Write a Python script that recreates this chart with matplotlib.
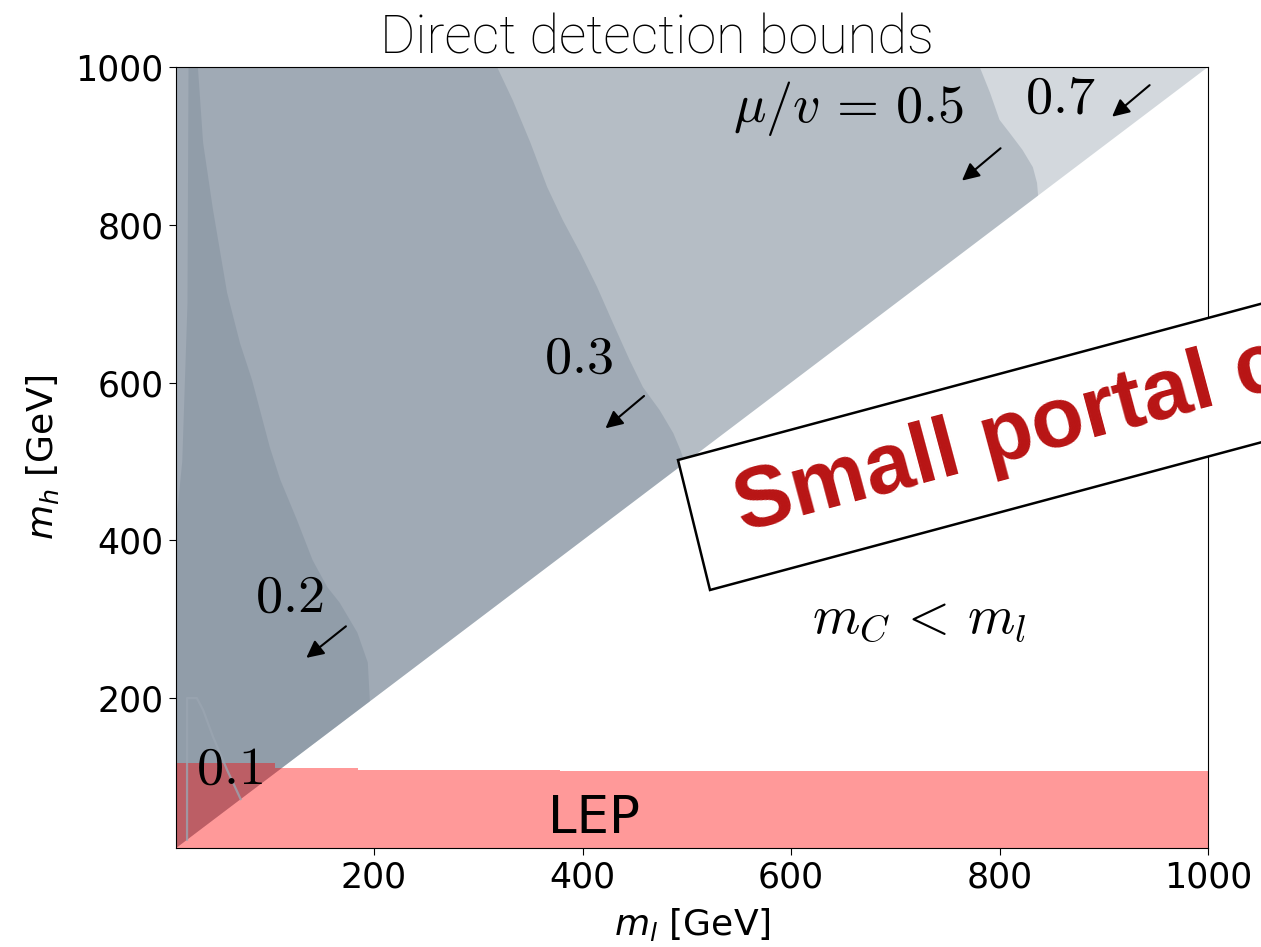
import numpy as np
import matplotlib
matplotlib.use("Agg")
import matplotlib.pyplot as plt
from matplotlib.patches import Polygon

plt.rcParams['xtick.labelsize'] = 25
plt.rcParams['ytick.labelsize'] = 25
plt.rcParams['axes.labelsize'] = 26

W, H = 1261, 947

# mass range (GeV)
m_min, m_max = 10, 1000

# contour boundaries, from the top edge down to the diagonal
b02_x = [31, 36, 45.5, 59, 71.4, 83, 100, 110, 126, 141, 155, 167, 184, 194, 196]
b02_y = [1000, 904, 819, 714, 650, 603, 518, 477, 426, 375, 341, 321, 283, 245, 196]
# left edge of the 0.2 region (thin lighter strip near m_l ~ 10-20)
b02_left_x = [10, 16, 21, 22]
b02_left_y = [420, 500, 700, 1000]

b03_x = [318, 333, 350, 366, 381, 398, 414, 429, 445, 458, 474, 487, 494, 498]
b03_y = [1000, 958, 904, 848, 806, 764, 721, 676, 629, 594, 565, 536, 514, 498]

b05_x = [781, 791, 800, 810, 822, 832, 836, 837]
b05_y = [1000, 967, 933, 916, 895, 873, 853, 837]

b01_x = [20.6, 20.6, 30, 36, 45.5, 59, 72]
b01_y = [20.6, 200, 200, 185, 151, 109, 72]

# LEP bound (step)
lep_x = [10, 105, 185, 378, 1000]
lep_y = [118, 112, 109, 107, 107]


def region(curve_x, curve_y, left_x=None, left_y=None):
  # region left of a boundary curve and above the diagonal m_h = m_l
  xs, ys = [m_min], [m_min]
  if left_x is None:
    xs += [m_min]
    ys += [m_max]
  else:
    xs += list(left_x)
    ys += list(left_y)
  xs += list(curve_x)
  ys += list(curve_y)
  return xs, ys


fig = plt.figure(figsize=(W/100, H/100), dpi=100)
ax = fig.add_axes([176/W, 1-848/H, (1208-176)/W, (848-67)/H])

gray = 'slategray'
# mu/v = 0.7 covers everything above the diagonal
ax.fill([m_min, m_max, m_min], [m_min, m_max, m_max], color=gray, alpha=0.3, lw=0)
for cx, cy in [(b05_x, b05_y), (b03_x, b03_y)]:
  xs, ys = region(cx, cy)
  ax.fill(xs, ys, color=gray, alpha=0.3, lw=0)
xs, ys = region(b02_x, b02_y, b02_left_x, b02_left_y)
ax.fill(xs, ys, color=gray, alpha=0.3, lw=0)
ax.plot(b01_x, b01_y, color='#9aa5b1', lw=1.6, alpha=0.8)

ax.fill_between(lep_x, 0, lep_y, step='post', color='red', alpha=0.4, lw=0)

ax.set_xlim(m_min, m_max)
ax.set_ylim(m_min, m_max)
ax.set_xticks([200, 400, 600, 800, 1000])
ax.set_yticks([200, 400, 600, 800, 1000])
ax.tick_params(length=5, pad=4)
ax.set_xlabel(r'$m_l$ [GeV]', labelpad=8)
ax.set_ylabel(r'$m_h$ [GeV]', labelpad=10)

cm = dict(fontsize=39, math_fontfamily='cm', va='baseline', ha='center')
ax.text(858, 942, r'$0.7$', **cm)
ax.text(655, 930, r'$\mu/v\,=\,0.5$', **cm)
ax.text(396, 613, r'$0.3$', **cm)
ax.text(119, 309, r'$0.2$', **cm)
ax.text(61, 92, r'$0.1$', **cm)
ax.text(723, 284, r'$m_C\,<\,m_l$', **cm)
ax.text(411, 47, 'LEP', fontsize=37, ha='center', va='center')

arrows = [((944, 977), (908, 937)), ((801, 897), (764, 856)),
          ((459, 583), (422, 542)), ((173, 291), (135, 251))]
for tail, head in arrows:
  ax.annotate('', xy=head, xytext=tail,
              arrowprops=dict(arrowstyle='-|>', color='k', lw=1.5,
                              mutation_scale=26, shrinkA=0, shrinkB=0))

fig.text(657/W, 1-54/H, 'Direct detection bounds', fontsize=39,
         family='Roboto', fontweight='light', ha='center', va='baseline')

# rotated box pasted over the plot
ang = np.deg2rad(15)
u = np.array([np.cos(ang), -np.sin(ang)])
tl = np.array([678, 460])
bl = np.array([710, 590])
corners = [tl, bl, bl + 900*u, tl + 900*u]
box = Polygon([(p[0]/W, 1-p[1]/H) for p in corners], closed=True,
              transform=fig.transFigure, facecolor='white', edgecolor='black',
              lw=1.8, clip_on=False)
fig.add_artist(box)
fig.text(742/W, 1-532/H, 'Small portal coupling', rotation=15,
         rotation_mode='anchor', ha='left', va='baseline', color='#B81414',
         fontsize=62, fontweight='bold', family='Liberation Sans')

fig.savefig('out.png', dpi=100)
